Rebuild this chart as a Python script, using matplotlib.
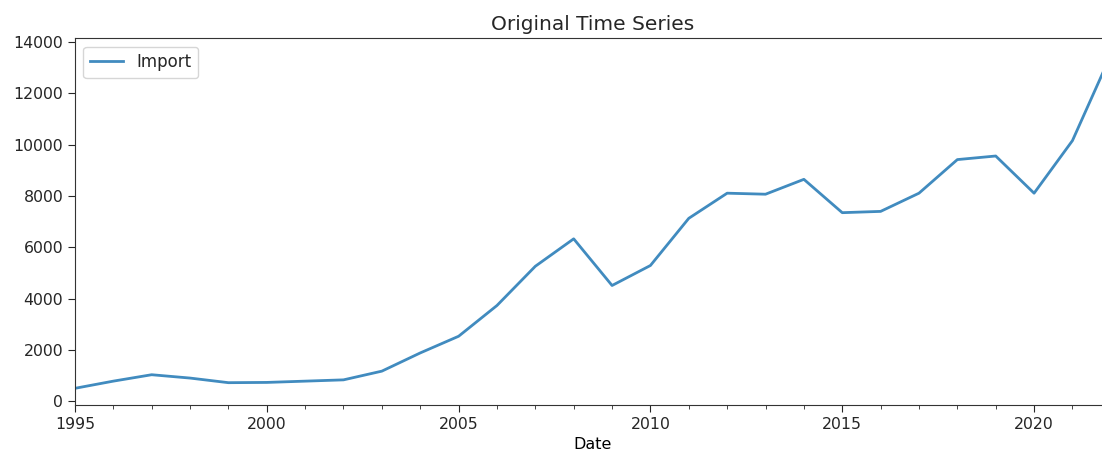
import matplotlib.pyplot as plt
from matplotlib.ticker import MultipleLocator

years = list(range(1995, 2023))
imports = [500, 780, 1030, 900, 720, 730, 780, 830, 1170, 1880, 2530,
           3730, 5260, 6330, 4510, 5290, 7130, 8110, 8070, 8650, 7350,
           7400, 8110, 9420, 9560, 8110, 10160, 13500]


def graficar():
    plt.rcParams['text.color'] = '#262626'
    plt.rcParams['xtick.color'] = '#262626'
    plt.rcParams['ytick.color'] = '#262626'
    plt.rcParams['axes.edgecolor'] = '#333333'
    fig = plt.figure(figsize=(11.02, 4.61), dpi=100)
    ax = fig.add_axes([0.068, 0.1215, 0.940, 0.7954])
    ax.plot(years, imports, color='#1f77b4', alpha=0.85, linewidth=2, label='Import')
    ax.set_xlim(1995, 2022)
    ax.margins(y=0.05)
    ax.xaxis.set_major_locator(MultipleLocator(5))
    ax.xaxis.set_minor_locator(MultipleLocator(1))
    ax.set_yticks(range(0, 14001, 2000))
    ax.tick_params(labelsize=11.3, length=5)
    ax.tick_params(which='minor', length=3)
    ax.set_title('Original Time Series', fontsize=14.5)
    ax.set_xlabel('Date', fontsize=11.5)
    ax.legend(loc='upper left', fontsize=12)
    fig.savefig('out.png', dpi=100)


if __name__ == '__main__':
    graficar()
